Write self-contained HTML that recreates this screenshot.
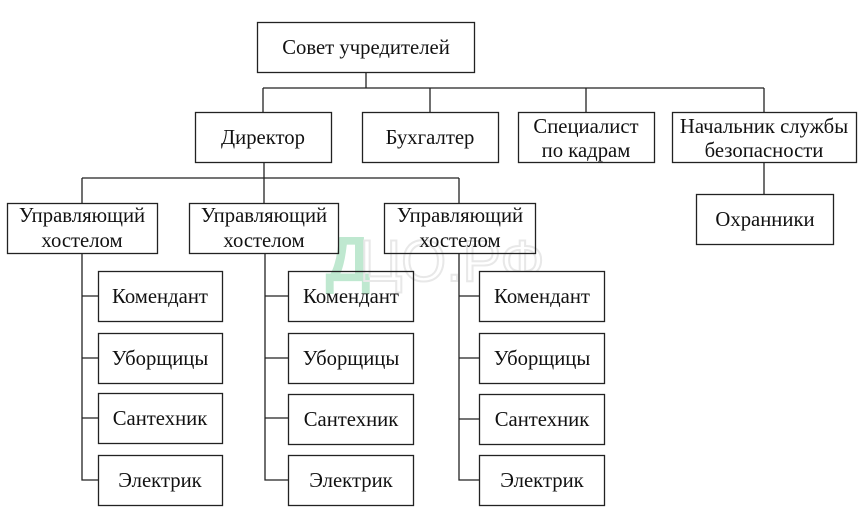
<!DOCTYPE html>
<html><head><meta charset="utf-8"><style>
html,body{margin:0;padding:0;background:#fff;}
svg{display:block;}
text{font-family:"Liberation Serif",serif;font-size:20.7px;fill:#111;text-anchor:middle;}
</style></head><body>
<svg width="862" height="518" viewBox="0 0 862 518" xmlns="http://www.w3.org/2000/svg">
<g>
<text x="348" y="281" style="font-family:'Liberation Sans',sans-serif;font-size:64px;font-weight:bold;fill:#bfe8d0;">Д</text>
<text x="452" y="281" style="font-family:'Liberation Sans',sans-serif;font-size:58px;fill:none;stroke:#e8e8e8;stroke-width:2;">ЦО.РФ</text>
</g>
<g fill="none" stroke="#222" stroke-width="1.3">
<line x1="366" y1="72" x2="366" y2="88"/>
<line x1="263" y1="88" x2="764" y2="88"/>
<line x1="263" y1="88" x2="263" y2="112"/>
<line x1="430" y1="88" x2="430" y2="112"/>
<line x1="586" y1="88" x2="586" y2="112"/>
<line x1="764" y1="88" x2="764" y2="112"/>
<line x1="764" y1="162" x2="764" y2="194"/>
<line x1="264" y1="162" x2="264" y2="178"/>
<line x1="82" y1="178" x2="459" y2="178"/>
<line x1="82" y1="178" x2="82" y2="203"/>
<line x1="264" y1="178" x2="264" y2="203"/>
<line x1="459" y1="178" x2="459" y2="203"/>
<path d="M82 253 V480 H98 M82 296 H98 M82 358 H98 M82 418 H98"/>
<path d="M265 253 V480 H288 M265 296 H288 M265 358 H288 M265 418 H288"/>
<path d="M459 253 V480 H479 M459 296 H479 M459 358 H479 M459 419 H479"/>
</g>
<g fill="#fff" stroke="#222" stroke-width="1.3">
<rect x="257.5" y="22.5" width="217" height="50"/>
<rect x="195.5" y="112.5" width="136" height="50"/>
<rect x="362.5" y="112.5" width="136" height="50"/>
<rect x="518.5" y="112.5" width="136" height="50"/>
<rect x="672.5" y="112.5" width="184" height="50"/>
<rect x="696.5" y="194.5" width="137" height="50"/>
<rect x="7.5" y="203.5" width="150" height="50"/>
<rect x="189.5" y="203.5" width="149" height="50" fill="none"/>
<rect x="384.5" y="203.5" width="151" height="50" fill="none"/>
<rect x="98.5" y="271.5" width="124" height="50"/>
<rect x="98.5" y="333.5" width="124" height="50"/>
<rect x="98.5" y="393.5" width="124" height="50"/>
<rect x="98.5" y="455.5" width="124" height="50"/>
<rect x="288.5" y="271.5" width="125" height="50" fill="none"/>
<rect x="288.5" y="333.5" width="125" height="50"/>
<rect x="288.5" y="394.5" width="125" height="50"/>
<rect x="288.5" y="455.5" width="125" height="50"/>
<rect x="479.5" y="271.5" width="125" height="50"/>
<rect x="479.5" y="333.5" width="125" height="50"/>
<rect x="479.5" y="394.5" width="125" height="50"/>
<rect x="479.5" y="455.5" width="125" height="50"/>
</g>
<text x="366" y="54">Совет учредителей</text>
<text x="263" y="144">Директор</text>
<text x="430" y="144">Бухгалтер</text>
<text x="586" y="133">Специалист</text>
<text x="586" y="157">по кадрам</text>
<text x="764" y="133">Начальник службы</text>
<text x="764" y="157">безопасности</text>
<text x="765" y="226">Охранники</text>
<text x="82" y="222">Управляющий</text>
<text x="82" y="247">хостелом</text>
<text x="264" y="222">Управляющий</text>
<text x="264" y="247">хостелом</text>
<text x="460" y="222">Управляющий</text>
<text x="460" y="247">хостелом</text>
<text x="160" y="303">Комендант</text>
<text x="160" y="365">Уборщицы</text>
<text x="160" y="425">Сантехник</text>
<text x="160" y="487">Электрик</text>
<text x="351" y="303">Комендант</text>
<text x="351" y="365">Уборщицы</text>
<text x="351" y="426">Сантехник</text>
<text x="351" y="487">Электрик</text>
<text x="542" y="303">Комендант</text>
<text x="542" y="365">Уборщицы</text>
<text x="542" y="426">Сантехник</text>
<text x="542" y="487">Электрик</text>
</svg>
</body></html>
